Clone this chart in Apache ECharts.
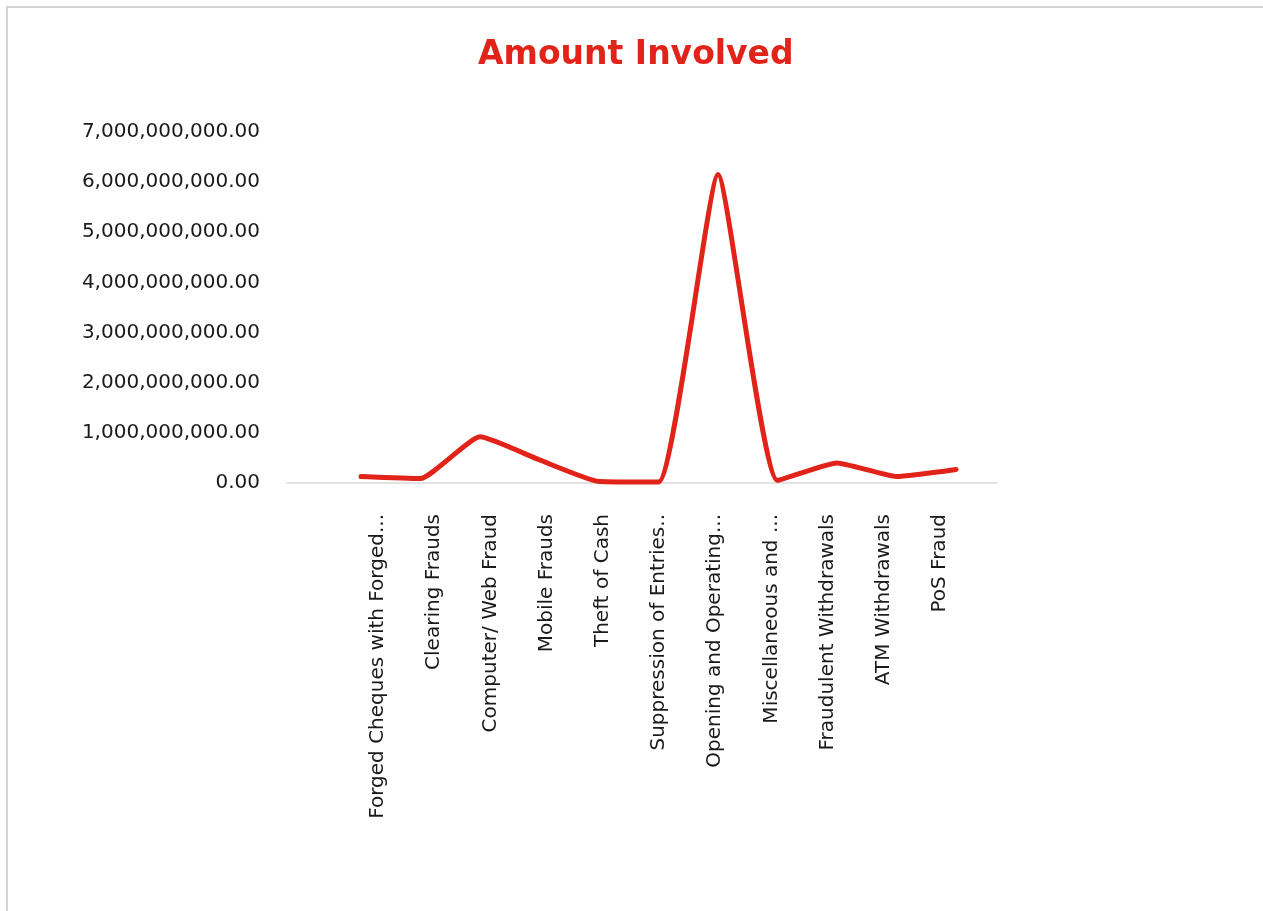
<!DOCTYPE html>
<html>
<head>
<meta charset="utf-8">
<script src="https://cdn.jsdelivr.net/npm/echarts@6/dist/echarts.min.js"></script>
<style>
html,body{margin:0;padding:0;background:#fff;overflow:hidden;}
#frame{position:absolute;left:6px;top:6px;width:1300px;height:950px;border-left:2px solid #d3d3d3;border-top:2px solid #d3d3d3;}
#chart{position:absolute;left:0;top:0;width:1263px;height:911px;}
</style>
</head>
<body>
<div id="frame"></div>
<div id="chart"></div>
<script>
const titleText = 'Amount Involved';
const categories = [
  'Forged Cheques with Forged...',
  'Clearing Frauds',
  'Computer/ Web Fraud',
  'Mobile Frauds',
  'Theft of Cash',
  'Suppression of Entries..',
  'Opening and Operating...',
  'Miscellaneous and ...',
  'Fraudulent Withdrawals',
  'ATM Withdrawals',
  'PoS Fraud'
];
const amounts = [130000000, 90000000, 920000000, 460000000, 30000000, 20000000, 6150000000, 50000000, 400000000, 130000000, 270000000];
const yMin = 0, yMax = 7000000000, yStep = 1000000000;

const chart = echarts.init(document.getElementById('chart'), null, {renderer: 'canvas'});
const red = '#e2231a';
const font = 'DejaVu Sans';
const fmt = v => v.toLocaleString('en-US', {minimumFractionDigits: 2, maximumFractionDigits: 2});
const gTop = 132, gBottom = 428;

chart.setOption({
  animation: false,
  backgroundColor: 'transparent',
  title: {
    text: titleText, left: 473, top: 34,
    textStyle: {color: red, fontFamily: font, fontWeight: 'bold', fontSize: 33}
  },
  grid: [
    {left: 361, right: 307, top: gTop, bottom: gBottom},
    {left: 350, right: 295, top: gTop, bottom: gBottom},
    {left: 287, right: 266, top: gTop, bottom: gBottom}
  ],
  xAxis: [
    {gridIndex: 0, type: 'category', data: categories, boundaryGap: false,
     axisLine: {show: false}, axisTick: {show: false}, axisLabel: {show: false}},
    {gridIndex: 1, type: 'category', data: categories, boundaryGap: true,
     axisLine: {show: false}, axisTick: {show: false},
     axisLabel: {rotate: 90, interval: 0, margin: 31, color: '#1a1a1a', fontFamily: font, fontSize: 20}},
    {gridIndex: 2, type: 'value', min: 0, max: 1,
     axisLine: {show: true, lineStyle: {color: '#d9d9d9', width: 1.5}}, axisTick: {show: false},
     axisLabel: {show: false}, splitLine: {show: false}}
  ],
  yAxis: [
    {gridIndex: 0, type: 'value', min: yMin, max: yMax, interval: yStep, show: false},
    {gridIndex: 1, type: 'value', min: yMin, max: yMax, interval: yStep, show: false},
    {gridIndex: 2, type: 'value', min: yMin, max: yMax, interval: yStep,
     axisLine: {show: false}, axisTick: {show: false}, splitLine: {show: false},
     axisLabel: {margin: 27, color: '#1a1a1a', fontFamily: font, fontSize: 20, formatter: fmt}}
  ],
  series: [{
    type: 'line', xAxisIndex: 0, yAxisIndex: 0,
    data: amounts, smooth: 0.15, showSymbol: false,
    lineStyle: {color: red, width: 5, cap: 'round', join: 'round'}
  }]
});
</script>
</body>
</html>
